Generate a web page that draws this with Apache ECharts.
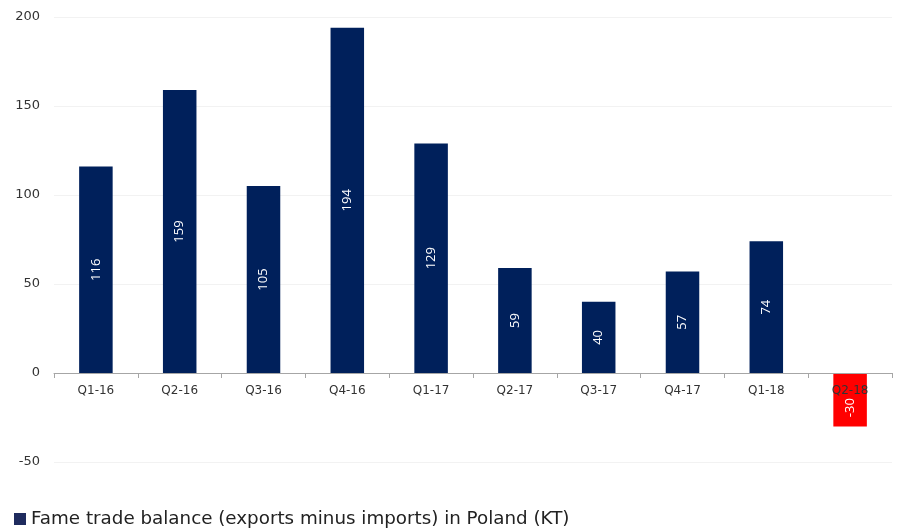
<!DOCTYPE html>
<html>
<head>
<meta charset="utf-8">
<script src="https://cdn.jsdelivr.net/npm/echarts@6/dist/echarts.min.js"></script>
<style>
  html, body { margin: 0; padding: 0; background: #fff; }
  #chart { width: 899px; height: 530px; }
</style>
</head>
<body>
<div id="chart"></div>
<script>
// Quarterly trade balance, kilotonnes
const quarters = ['Q1-16', 'Q2-16', 'Q3-16', 'Q4-16', 'Q1-17', 'Q2-17', 'Q3-17', 'Q4-17', 'Q1-18', 'Q2-18'];
const balance = [116, 159, 105, 194, 129, 59, 40, 57, 74, -30];
const yTicks = { min: -50, max: 200, step: 50 };
const seriesName = 'Fame trade balance (exports minus imports) in Poland (KT)';

const navy = '#00205b';
const deficitRed = '#ff0000';
const fontFamily = '"DejaVu Sans", "Open Sans", sans-serif';

const gridTop = 17, gridBottom = 68, chartHeight = 530;
// pixel distance from the bottom of the plot up to the zero line
const plotHeight = chartHeight - gridTop - gridBottom;
const zeroLift = plotHeight * (0 - yTicks.min) / (yTicks.max - yTicks.min);

const chart = echarts.init(document.getElementById('chart'));
chart.setOption({
  animation: false,
  textStyle: { fontFamily: fontFamily },
  grid: { left: 54, right: 7, top: gridTop, bottom: gridBottom },
  legend: {
    left: 9,
    bottom: -3,
    itemWidth: 12,
    itemHeight: 12,
    itemGap: 5,
    textStyle: { fontSize: 18.3, color: '#222', fontFamily: fontFamily },
    data: [{ name: seriesName, icon: 'rect', itemStyle: { color: '#1f2b5e' } }]
  },
  xAxis: {
    type: 'category',
    data: quarters,
    offset: -zeroLift,
    axisLine: { onZero: false, lineStyle: { color: '#a6a6a6' } },
    axisTick: { show: true, length: 5, lineStyle: { color: '#a6a6a6' } },
    axisLabel: { color: '#333', fontSize: 12, margin: 12, fontFamily: fontFamily },
    z: 5
  },
  yAxis: {
    type: 'value',
    min: yTicks.min,
    max: yTicks.max,
    interval: yTicks.step,
    axisLine: { show: false },
    axisTick: { show: false },
    splitLine: { lineStyle: { color: '#f2f2f2' } },
    axisLabel: { color: '#333', fontSize: 13, margin: 14, fontFamily: fontFamily }
  },
  series: [{
    name: seriesName,
    type: 'bar',
    barWidth: '40%',
    z: 3,
    itemStyle: { color: navy },
    label: {
      show: true,
      position: 'inside',
      rotate: 90,
      color: '#fff',
      fontSize: 13,
      fontFamily: '"Open Sans", sans-serif'
    },
    data: balance.map(v => v < 0
      ? { value: v, itemStyle: { color: deficitRed }, label: { offset: [-8, 0] } }
      : v)
  }]
});
</script>
</body>
</html>
